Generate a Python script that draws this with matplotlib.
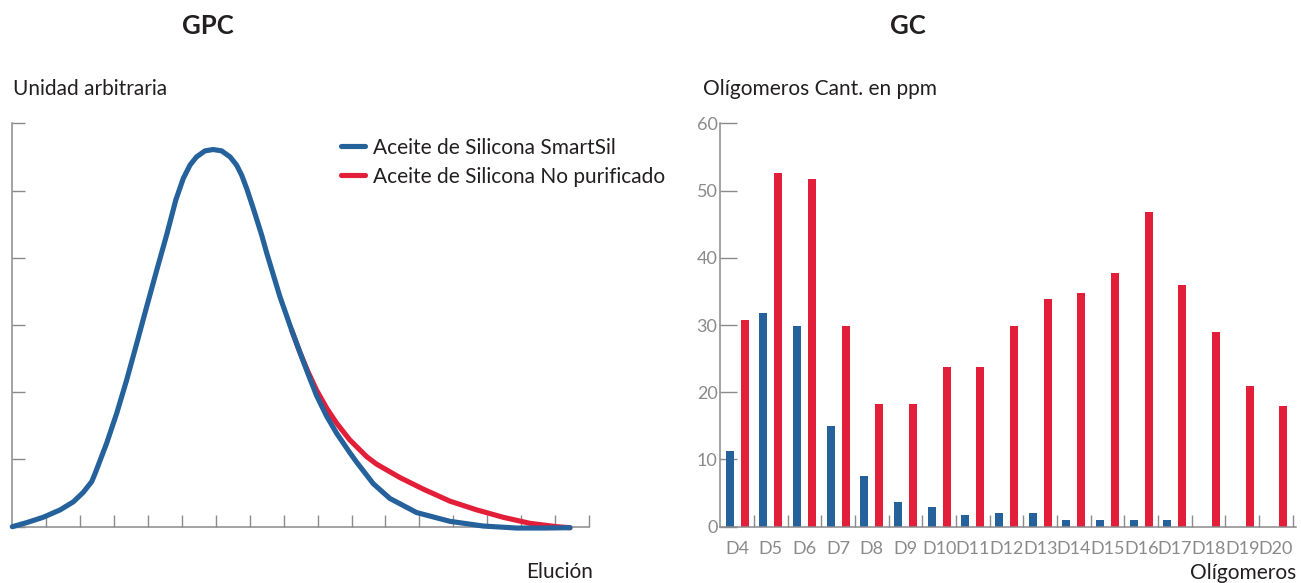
import numpy as np
import matplotlib
matplotlib.use('Agg')
import matplotlib.pyplot as plt

plt.rcParams['font.family'] = ['Lato', 'DejaVu Sans']

BLUE = '#25619A'
RED = '#E31E38'
GRAY = '#8A8A8D'
DARK = '#231F20'

# GPC curves (x in tick units 0..17, y in tick units 0..6)
gpc_x = [0, 0.42, 0.91, 1.41, 1.80, 2.09, 2.34, 2.44, 2.78, 3.08, 3.37, 3.67, 3.96,
         4.26, 4.55, 4.82, 5.04, 5.24, 5.43, 5.68, 5.92, 6.17, 6.42, 6.61,
         6.76, 6.91, 7.10, 7.35, 7.50, 7.89, 8.23, 8.48, 8.72, 8.97, 9.27, 9.56,
         9.95, 10.15, 10.64, 11.13, 11.92, 12.90, 13.88, 14.87, 15.65, 16.44]
gpc_smartsil = [0, 0.06, 0.14, 0.25, 0.37, 0.51, 0.67, 0.79, 1.24, 1.69, 2.18, 2.73, 3.27,
                3.82, 4.34, 4.86, 5.18, 5.38, 5.50, 5.59, 5.61, 5.59, 5.50, 5.38,
                5.23, 5.03, 4.74, 4.34, 4.07, 3.42, 2.93, 2.59, 2.27, 1.95, 1.64, 1.39,
                1.10, 0.96, 0.64, 0.42, 0.21, 0.08, 0.01, -0.02, -0.02, -0.015]

tail_x = [8.23, 8.48, 8.72, 8.97, 9.27, 9.56, 9.95, 10.45, 10.74, 11.43, 12.11,
          12.90, 13.69, 14.47, 15.26, 16.05, 16.44]
tail_unpurified = [2.93, 2.59, 2.30, 2.03, 1.76, 1.54, 1.29, 1.04, 0.93, 0.73, 0.56,
                   0.38, 0.25, 0.14, 0.05, 0.0, -0.015]

# GC oligomers
oligomers = ['D4', 'D5', 'D6', 'D7', 'D8', 'D9', 'D10', 'D11', 'D12', 'D13', 'D14',
             'D15', 'D16', 'D17', 'D18', 'D19', 'D20']
ppm_smartsil = [11.2, 31.8, 29.9, 15.0, 7.5, 3.7, 3.0, 1.8, 2.1, 2.1, 1.0,
                1.0, 1.0, 1.0, 0, 0, 0]
ppm_unpurified = [30.7, 52.6, 51.7, 29.9, 18.3, 18.3, 23.8, 23.8, 29.9, 33.9, 34.8,
                  37.8, 46.8, 35.9, 29.0, 20.9, 17.9]

W, H = 1301, 583
fig = plt.figure(figsize=(W / 100, H / 100), dpi=100, facecolor='white')


def fx(px):
    return px / W


def fy(py):
    return 1 - py / H


# ---- GPC ----
ax1 = fig.add_axes([fx(12.3), fy(526.7), fx(589) - fx(12.3), fy(123.3) - fy(526.7)])
ax1.plot(tail_x, tail_unpurified, color=RED, lw=3.7, solid_capstyle='round',
         solid_joinstyle='round', clip_on=False,
         label='Aceite de Silicona No purificado', zorder=2)
ax1.plot(gpc_x, gpc_smartsil, color=BLUE, lw=3.7, solid_capstyle='round',
         solid_joinstyle='round', clip_on=False,
         label='Aceite de Silicona SmartSil', zorder=3)
ax1.set_xlim(0, 17)
ax1.set_ylim(0, 6)
ax1.set_xticks(np.arange(1, 18))
ax1.set_yticks(np.arange(0, 7))
ax1.tick_params(direction='in', length=9, width=1, color=GRAY,
                labelbottom=False, labelleft=False)
for s in ['top', 'right']:
    ax1.spines[s].set_visible(False)
for s in ['left', 'bottom']:
    ax1.spines[s].set_color(GRAY)
    ax1.spines[s].set_linewidth(1.1)

h, l = ax1.get_legend_handles_labels()
ax1.legend(h[::-1], l[::-1], loc='upper left', frameon=False, fontsize=15,
           handlelength=1.17, handletextpad=0.4, labelspacing=0.44,
           borderpad=0, borderaxespad=0,
           bbox_to_anchor=(fx(340.5), fy(137.5)), bbox_transform=fig.transFigure,
           labelcolor=DARK)

fig.text(fx(208), fy(26), 'GPC', ha='center', va='center', fontsize=18.5,
         fontweight='bold', color=DARK)
fig.text(fx(13), fy(89), 'Unidad arbitraria', ha='left', va='center',
         fontsize=15, color=DARK)
fig.text(fx(560), fy(572), 'Elución', ha='center', va='center',
         fontsize=15, color=DARK)

# ---- GC ----
ax2 = fig.add_axes([fx(720.3), fy(526.7), fx(1296) - fx(720.3), fy(123.3) - fy(526.7)])
xs = np.arange(len(oligomers))
ax2.bar(xs - 0.22, ppm_smartsil, width=0.24, color=BLUE, zorder=2)
ax2.bar(xs + 0.22, ppm_unpurified, width=0.24, color=RED, zorder=2)
ax2.set_xlim(-0.5, 16.6)
ax2.set_ylim(0, 60)
ax2.set_yticks(np.arange(0, 61, 10))
ax2.set_xticks(xs)
ax2.set_xticklabels(oligomers)
ax2.set_xticks(xs + 0.5, minor=True)
ax2.tick_params(axis='x', which='major', length=0, pad=10, labelsize=13, labelcolor=GRAY)
ax2.tick_params(axis='x', which='minor', direction='in', length=9, width=1, color=GRAY)
ax2.tick_params(axis='y', direction='in', length=12, width=1, color=GRAY, pad=2,
                labelsize=13, labelcolor=GRAY)
for s in ['top', 'right']:
    ax2.spines[s].set_visible(False)
for s in ['left', 'bottom']:
    ax2.spines[s].set_color(GRAY)
    ax2.spines[s].set_linewidth(1.1)

fig.text(fx(908), fy(26), 'GC', ha='center', va='center', fontsize=18.5,
         fontweight='bold', color=DARK)
fig.text(fx(703), fy(89), 'Olígomeros Cant. en ppm', ha='left', va='center',
         fontsize=15, color=DARK)
fig.text(fx(1296), fy(573), 'Olígomeros', ha='right', va='center',
         fontsize=15, color=DARK)

fig.savefig('out.png', dpi=100, facecolor='white')
